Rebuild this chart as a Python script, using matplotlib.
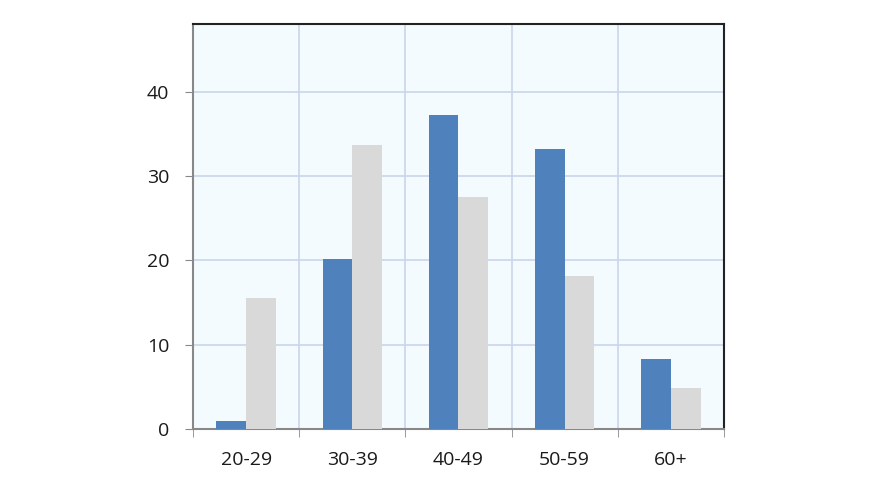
import numpy as np
import matplotlib.pyplot as plt

categories = ['20-29', '30-39', '40-49', '50-59', '60+']
blue_vals = [1, 20.2, 37.2, 33.2, 8.3]
gray_vals = [15.5, 33.7, 27.5, 18.1, 4.9]

plt.rcParams['font.family'] = ['Open Sans', 'DejaVu Sans']

fig = plt.figure(figsize=(8.8, 4.95), dpi=100)
ax = fig.add_axes([0.2193, 0.1333, 0.6034, 0.8182])
ax.set_facecolor('#F3FBFF')

x = np.arange(len(categories))
w = 0.28
ax.bar(x - w / 2, blue_vals, w, color='#4F81BD', zorder=3)
ax.bar(x + w / 2, gray_vals, w, color='#D9D9D9', zorder=3)

ax.set_xlim(-0.5, len(categories) - 0.5)
ax.set_ylim(0, 48)
ax.set_yticks([0, 10, 20, 30, 40])
ax.set_xticks(x)
ax.set_xticklabels(categories)
ax.set_xticks(np.arange(-0.5, len(categories)), minor=True)

ax.grid(True, axis='y', color='#C9D6EA', linewidth=1.2, zorder=0)
ax.grid(True, axis='x', which='minor', color='#C9D6EA', linewidth=1.2, zorder=0)
ax.grid(False, axis='x', which='major')

ax.tick_params(axis='x', which='major', length=0, pad=16, labelsize=14, labelcolor='#1a1a1a')
ax.tick_params(axis='x', which='minor', length=6, color='#888888', direction='out')
ax.tick_params(axis='y', length=6, color='#888888', labelsize=14, pad=11, labelcolor='#1a1a1a')

for s in ['left', 'bottom']:
    ax.spines[s].set_color('#888888')
    ax.spines[s].set_linewidth(1.5)
for s in ['top', 'right']:
    ax.spines[s].set_color('#222222')
    ax.spines[s].set_linewidth(1.5)

fig.savefig('out.png', dpi=100)
